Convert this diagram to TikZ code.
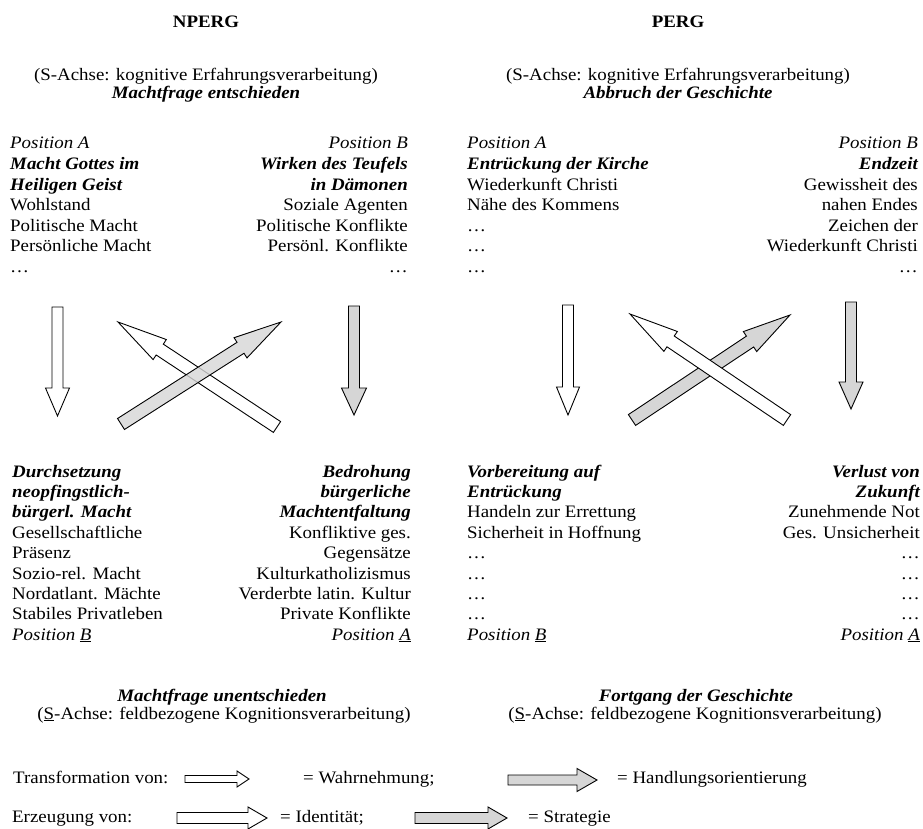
\documentclass[tikz,border=0pt]{standalone}
\usepackage{fontspec}
\setmainfont{Liberation Serif}[FakeStretch=1.08]
\usetikzlibrary{calc}
\newcommand\dfs{\fontsize{17.5}{20.5}\selectfont}
% #1 style, #2 tail, #3 tip, #4 body half width, #5 head half width, #6 head length
\newcommand\fatarrow[6]{%
  \coordinate (fat) at (#2);
  \coordinate (fah) at (#3);
  \coordinate (fap) at ($(fah)!#6!(fat)$);
  \draw[#1] ($(fat)!#4!90:(fah)$) -- ($(fap)!#4!90:(fah)$) -- ($(fap)!#5!90:(fah)$) -- (fah)
    -- ($(fap)!#5!-90:(fah)$) -- ($(fap)!#4!-90:(fah)$) -- ($(fat)!#4!-90:(fah)$) -- cycle;}
\begin{document}
\begin{tikzpicture}[x=1pt,y=-1pt,
  L/.style={inner sep=0pt,anchor=base west,font=\dfs},
  R/.style={inner sep=0pt,anchor=base east,font=\dfs},
  C/.style={inner sep=0pt,anchor=base,font=\dfs},
  bi/.style={font=\dfs\bfseries\itshape},
  it/.style={font=\dfs\itshape},
  bf/.style={font=\dfs\bfseries},
  warr/.style={draw=black,line width=0.9pt,fill=white,line join=miter},
  garr/.style={draw=black,line width=0.9pt,fill=black!16,line join=miter}]
\useasboundingbox (0,0) rectangle (923,829);
\fill[white] (0,0) rectangle (923,829);

% ---------- headers ----------
\node[C,bf] (nperg) at (206,28) {NPERG};
\node[C] (lsa) at (206,81) {(S-Achse: kognitive Erfahrungsverarbeitung)};
\node[C,bi] (lmf) at (206,99) {Machtfrage entschieden};
\node[C,bf] (perg) at (678,28) {PERG};
\node[C] (rsa) at (678,81) {(S-Achse: kognitive Erfahrungsverarbeitung)};
\node[C,bi] (rab) at (678,99) {Abbruch der Geschichte};

% ---------- top left panel ----------
\node[L,it] (a1) at (10,149) {Position A};
\node[L,bi] (a2) at (10,169.5) {Macht Gottes im};
\node[L,bi] (a3) at (10,190) {Heiligen Geist};
\node[L] (a4) at (10,210.5) {Wohlstand};
\node[L] (a5) at (10,231) {Politische Macht};
\node[L] (a6) at (10,251.5) {Persönliche Macht};
\node[L] (a7) at (10,272) {…};
\node[R,it] (b1) at (408,149) {Position B};
\node[R,bi] (b2) at (408,169.5) {Wirken des Teufels};
\node[R,bi] (b3) at (408,190) {in Dämonen};
\node[R] (b4) at (408,210.5) {Soziale Agenten};
\node[R] (b5) at (408,231) {Politische Konflikte};
\node[R] (b6) at (408,251.5) {Persönl. Konflikte};
\node[R] (b7) at (408,272) {…};

% ---------- top right panel ----------
\node[L,it] (c1) at (467,149) {Position A};
\node[L,bi] (c2) at (467,169.5) {Entrückung der Kirche};
\node[L] (c3) at (467,190) {Wiederkunft Christi};
\node[L] (c4) at (467,210.5) {Nähe des Kommens};
\node[L] (c5) at (467,231) {…};
\node[L] (c6) at (467,251.5) {…};
\node[L] (c7) at (467,272) {…};
\node[R,it] (d1) at (918,149) {Position B};
\node[R,bi] (d2) at (918,169.5) {Endzeit};
\node[R] (d3) at (918,190) {Gewissheit des};
\node[R] (d4) at (918,210.5) {nahen Endes};
\node[R] (d5) at (918,231) {Zeichen der};
\node[R] (d6) at (918,251.5) {Wiederkunft Christi};
\node[R] (d7) at (918,272) {…};

% ---------- arrows left ----------
\fatarrow{warr}{57.5,307}{57.5,416}{5.5pt}{12pt}{28pt}
\fatarrow{garr}{354,306}{354,415}{5.5pt}{12.5pt}{27pt}
\fatarrow{warr}{277,427}{118,322}{6.5pt}{12pt}{50pt}
\fatarrow{garr,fill opacity=0.8}{121,424}{281,322}{6.5pt}{12pt}{48pt}

% ---------- arrows right ----------
\fatarrow{warr}{568,305}{568,415}{5.5pt}{11.5pt}{28pt}
\fatarrow{garr}{851,302}{851,409}{5.5pt}{12pt}{27pt}
\fatarrow{garr}{632,420}{790,315}{6.5pt}{12pt}{48pt}
\fatarrow{warr}{787,420}{630,314}{6.5pt}{12pt}{49pt}

% ---------- bottom left panel ----------
\node[L,bi] (e1) at (12,477) {Durchsetzung};
\node[L,bi] (e2) at (12,497.4) {neopfingstlich-};
\node[L,bi] (e3) at (12,517.8) {bürgerl. Macht};
\node[L] (e4) at (12,538.2) {Gesellschaftliche};
\node[L] (e5) at (12,558.6) {Präsenz};
\node[L] (e6) at (12,579) {Sozio-rel. Macht};
\node[L] (e7) at (12,599.4) {Nordatlant. Mächte};
\node[L] (e8) at (12,619.8) {Stabiles Privatleben};
\node[L,it] (e9) at (12,640.2) {Position \underline{B}};
\node[R,bi] (f1) at (411,477) {Bedrohung};
\node[R,bi] (f2) at (411,497.4) {bürgerliche};
\node[R,bi] (f3) at (411,517.8) {Machtentfaltung};
\node[R] (f4) at (411,538.2) {Konfliktive ges.};
\node[R] (f5) at (411,558.6) {Gegensätze};
\node[R] (f6) at (411,579) {Kulturkatholizismus};
\node[R] (f7) at (411,599.4) {Verderbte latin. Kultur};
\node[R] (f8) at (411,619.8) {Private Konflikte};
\node[R,it] (f9) at (411,640.2) {Position \underline{A}};

% ---------- bottom right panel ----------
\node[L,bi] (g1) at (467,477) {Vorbereitung auf};
\node[L,bi] (g2) at (467,497.4) {Entrückung};
\node[L] (g3) at (467,517.8) {Handeln zur Errettung};
\node[L] (g4) at (467,538.2) {Sicherheit in Hoffnung};
\node[L] (g5) at (467,558.6) {…};
\node[L] (g6) at (467,579) {…};
\node[L] (g7) at (467,599.4) {…};
\node[L] (g8) at (467,619.8) {…};
\node[L,it] (g9) at (467,640.2) {Position \underline{B}};
\node[R,bi] (h1) at (920,477) {Verlust von};
\node[R,bi] (h2) at (920,497.4) {Zukunft};
\node[R] (h3) at (920,517.8) {Zunehmende Not};
\node[R] (h4) at (920,538.2) {Ges. Unsicherheit};
\node[R] (h5) at (920,558.6) {…};
\node[R] (h6) at (920,579) {…};
\node[R] (h7) at (920,599.4) {…};
\node[R] (h8) at (920,619.8) {…};
\node[R,it] (h9) at (920,640.2) {Position \underline{A}};

% ---------- bottom headers ----------
\node[C,bi] (lmu) at (222,701) {Machtfrage unentschieden};
\node[C] (lsb) at (224,719) {(\underline{S}-Achse: feldbezogene Kognitionsverarbeitung)};
\node[C,bi] (rfg) at (696,701) {Fortgang der Geschichte};
\node[C] (rsb) at (695,719) {(\underline{S}-Achse: feldbezogene Kognitionsverarbeitung)};

% ---------- legend ----------
\node[L] (l1) at (13,783) {Transformation von:};
\fatarrow{warr}{185,779}{249,779}{3.5pt}{8pt}{12pt}
\node[L] (l2) at (303,783) {= Wahrnehmung;};
\fatarrow{garr}{508,780}{597,780}{5pt}{11.5pt}{20pt}
\node[L] (l3) at (617,783) {= Handlungsorientierung};
\node[L] (l4) at (12,822) {Erzeugung von:};
\fatarrow{warr}{177,818}{267,818}{5.5pt}{11pt}{19pt}
\node[L] (l5) at (280,822) {= Identität;};
\fatarrow{garr}{415,818}{507,818}{5.5pt}{11pt}{19pt}
\node[L] (l6) at (528,822) {= Strategie};
\end{tikzpicture}
\end{document}
